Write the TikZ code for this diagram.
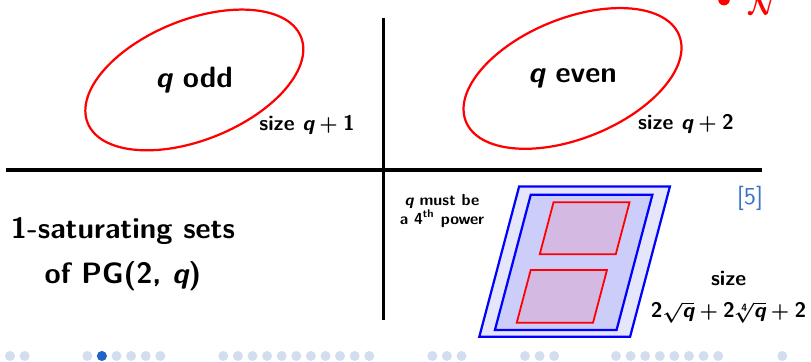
\documentclass[tikz,border=0pt,11pt]{standalone}
\usepackage{amsmath}
\usetikzlibrary{positioning}

\definecolor{navlight}{RGB}{210,222,240}
\definecolor{navdark}{RGB}{30,100,200}
\definecolor{citeblue}{RGB}{59,117,196}
\definecolor{outerfill}{RGB}{230,230,250}
\definecolor{innerfill}{RGB}{205,205,250}
\definecolor{blockfill}{RGB}{212,186,226}

% slanted sans q and sans digits, as on the slide
\newcommand{\vq}{\text{\slshape q}}
\newcommand{\vn}[1]{\text{#1}}
\AtBeginDocument{\boldmath}

\begin{document}
\begin{tikzpicture}[font=\sffamily\bfseries\fontsize{13.2}{16}\selectfont,
    sep/.style={line width=1.4pt},
    oval/.style={red, line width=1pt},
    sizelbl/.style={font=\sffamily\bfseries\fontsize{9.5}{11.5}\selectfont},
    planebox/.style={blue, line width=1pt},
    subplane/.style={red, line width=0.8pt, fill=blockfill}]

    \useasboundingbox (0,0) rectangle (12.8,5.713);

    % the cross
    \coordinate (hl) at (0.095,3.03);
    \coordinate (hr) at (12.03,3.03);
    \coordinate (vt) at (6.05,5.43);
    \coordinate (vb) at (6.05,0.663);
    \draw[sep] (hl) -- (hr);
    \draw[sep] (vt) -- (vb);

    % top right corner, cut by the frame
    \node[circle, fill=red, inner sep=0pt, minimum size=0.185cm] (dot) at (11.427,5.72) {};
    \node[red, anchor=base west, font=\large] (calN) at (11.68,5.477) {$\mathcal{N}$};

    % q odd / q even
    \node (odd) at (3.067,4.451) {\vq\ odd};
    \draw[oval, rotate around={22:(odd.center)}] (odd.center) ellipse (1.815cm and 0.947cm);
    \node[sizelbl, on grid, below right=0.71cm and 1.78cm of odd] (oddsize) {size $\vq+\vn{1}$};

    \node (even) at (9.036,4.475) {\vq\ even};
    \draw[oval, rotate around={22:(even.center)}] (even.center) ellipse (1.815cm and 0.947cm);
    \node[sizelbl, on grid, below right=0.72cm and 1.79cm of even] (evensize) {size $\vq+\vn{2}$};

    % bottom
    \node[align=center] (sat) at (1.941,1.697) {1-saturating sets\\[4.2pt] of PG(2, \vq)};

    \node[font=\sffamily\bfseries\fontsize{7.2}{8.2}\selectfont, align=center] (fourth) at (6.976,2.383)
        {\vq\ must be\\ a 4\textsuperscript{th} power};
    \node[citeblue, font=\sffamily\mdseries] (cite) at (11.837,2.588) {[5]};

    \begin{scope}[shift={(7.565,0.399)}, xslant=0.265]
        \filldraw[planebox, fill=outerfill] (0,0) rectangle (2.38,2.37);
        \filldraw[planebox, fill=innerfill] (0.218,0.106) rectangle (2.138,2.241);
        \filldraw[subplane] (0.609,1.30) rectangle (1.809,2.121);
        \filldraw[subplane] (0.532,0.221) rectangle (1.736,1.053);
    \end{scope}

    \node[sizelbl, align=center] (bigsize) at (11.5,1.02)
        {size\\[2.5pt] $\vn{2}\sqrt{\vq}+\vn{2}\sqrt[\vn{4}]{\vq}+\vn{2}$};

    % navigation dots
    \foreach \gx/\n in {0.158/2, 1.378/6, 3.524/11, 6.823/3, 8.286/3, 9.722/8, 12.347/1}
        \foreach \i in {1,...,\n}
            \fill[navlight] ({\gx+(\i-1)*0.2304},0.0947) circle (0.079);
    \fill[navdark] (1.608,0.0947) circle (0.079);

\end{tikzpicture}
\end{document}
